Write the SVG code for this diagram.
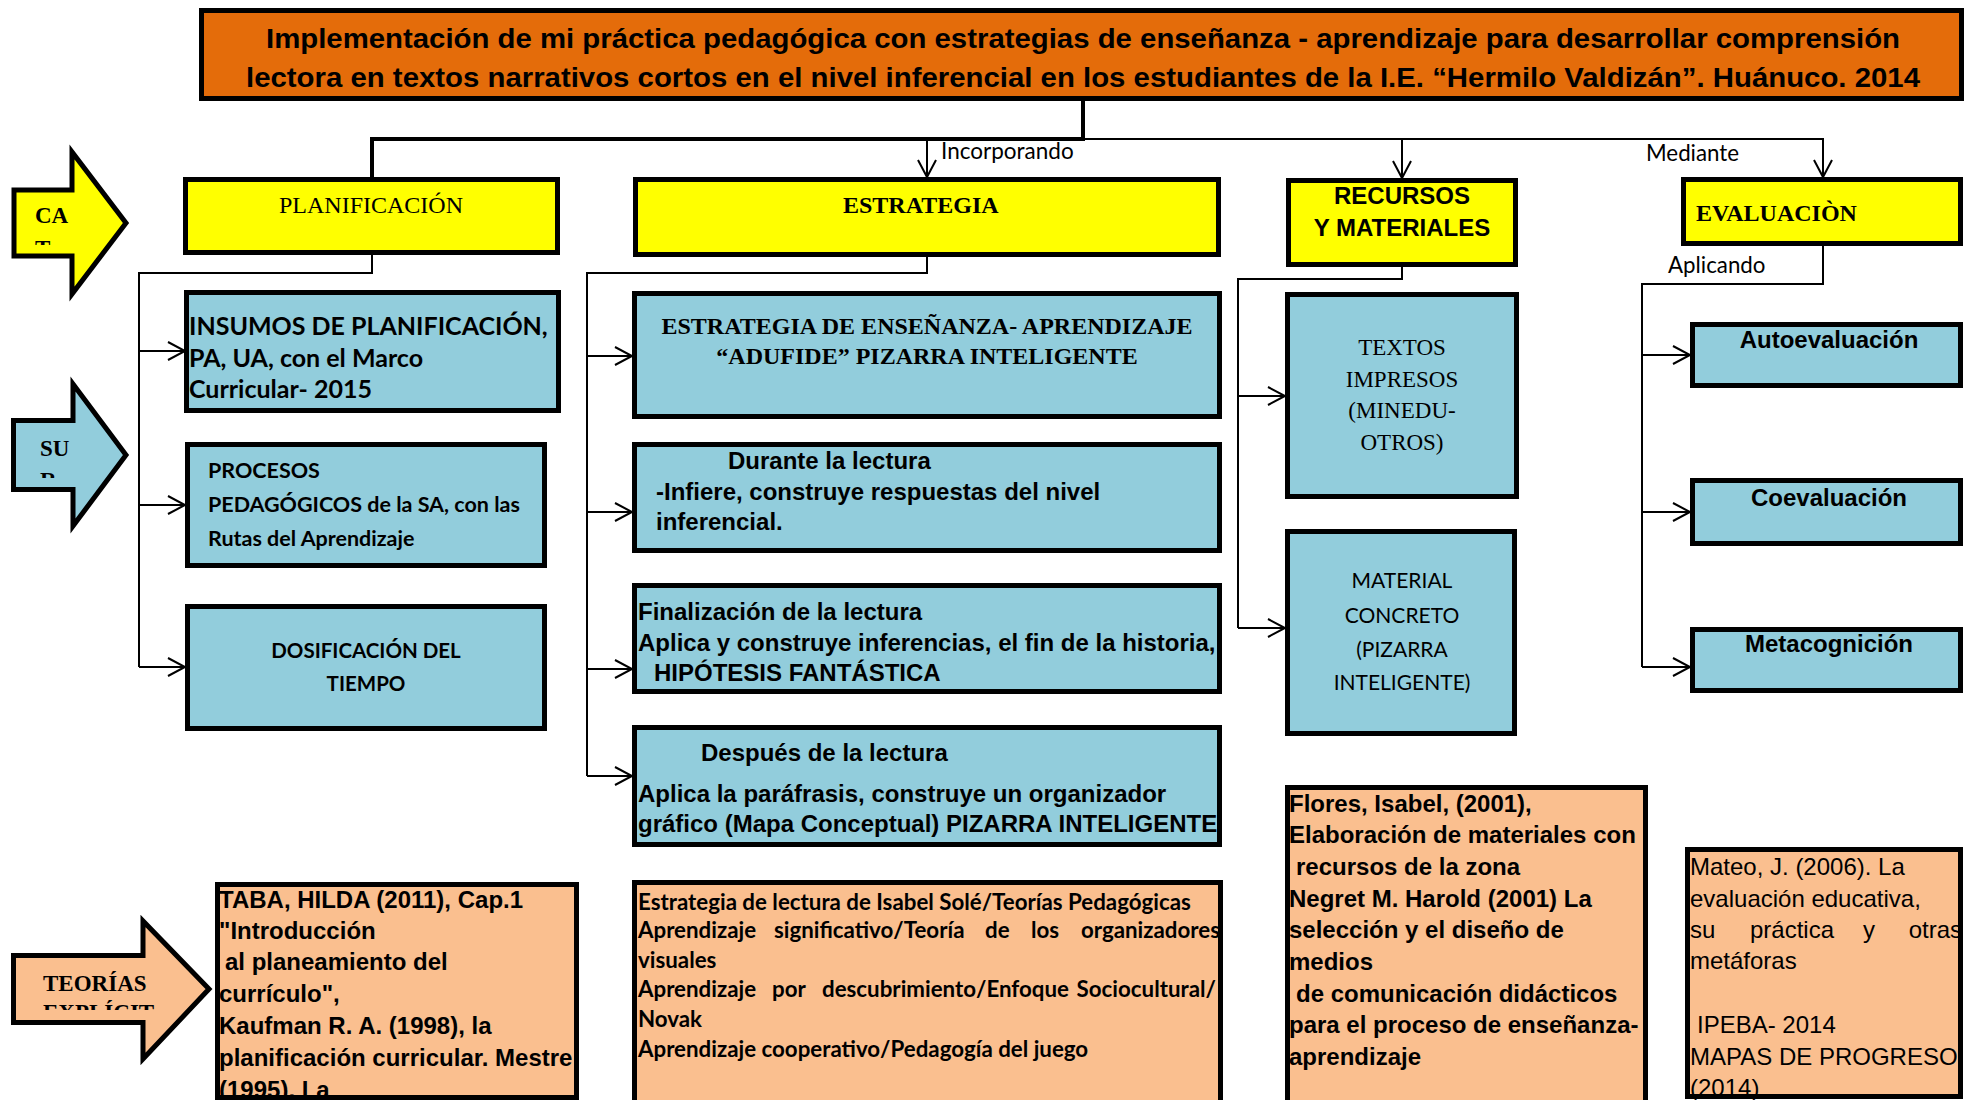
<svg xmlns="http://www.w3.org/2000/svg" width="1966" height="1100" viewBox="0 0 1966 1100">
<style>
.box{stroke:#000;stroke-width:5}
.y{fill:#FFFF00}.b{fill:#92CDDC}.p{fill:#FABF8F}.o{fill:#E46C0A}
.ab{font-family:"Liberation Sans",Arial,sans-serif;font-weight:bold;font-size:24px;fill:#000}
.ar{font-family:"Liberation Sans",Arial,sans-serif;font-size:24px;fill:#000}
.tb{font-family:"Liberation Serif","Times New Roman",serif;font-weight:bold;fill:#000}
.tr{font-family:"Liberation Serif","Times New Roman",serif;fill:#000}
.cb{font-family:Lato,"Liberation Sans",sans-serif;font-weight:bold;fill:#000}
.cr{font-family:Lato,"Liberation Sans",sans-serif;fill:#000}
.c{text-anchor:middle}
.e{text-anchor:end}
.ln{fill:none;stroke:#000;stroke-width:2}
.thick{fill:none;stroke:#000;stroke-width:4}
.bk{fill:none;stroke:#000;stroke-width:5}
</style>
<defs>
<marker id="arr" markerUnits="userSpaceOnUse" markerWidth="22" markerHeight="24" refX="19" refY="12" orient="auto">
<path d="M2,3 L19,12 L2,21" fill="none" stroke="#000" stroke-width="2"/>
</marker>
<clipPath id="clipCA"><rect x="0" y="180" width="130" height="65"/></clipPath>
<clipPath id="clipSU"><rect x="0" y="410" width="130" height="68"/></clipPath>
<clipPath id="clipTE"><rect x="0" y="950" width="210" height="60"/></clipPath>
</defs>

<g id="connectors">
<path class="thick" d="M1083,101 V139 H372 V177"/>
<path class="ln" d="M1083,139 H1823 V177" marker-end="url(#arr)"/>
<path class="ln" d="M1402,139 V178" marker-end="url(#arr)"/>
<path class="ln" d="M927,139 V177" marker-end="url(#arr)"/>
<text class="cr" font-size="22.5" x="941" y="159">Incorporando</text>
<text class="cr" font-size="22.3" x="1646" y="161">Mediante</text>
<text class="cr" font-size="22.3" x="1668" y="273">Aplicando</text>

<path class="ln" d="M372,255 V273 H139 V667"/>
<path class="ln" d="M139,351 H185" marker-end="url(#arr)"/>
<path class="ln" d="M139,505 H185" marker-end="url(#arr)"/>
<path class="ln" d="M139,667 H185" marker-end="url(#arr)"/>

<path class="ln" d="M927,257 V273 H587 V776"/>
<path class="ln" d="M587,356 H632" marker-end="url(#arr)"/>
<path class="ln" d="M587,512 H632" marker-end="url(#arr)"/>
<path class="ln" d="M587,669 H632" marker-end="url(#arr)"/>
<path class="ln" d="M587,776 H632" marker-end="url(#arr)"/>

<path class="ln" d="M1402,267 V279 H1238 V628"/>
<path class="ln" d="M1238,396 H1285" marker-end="url(#arr)"/>
<path class="ln" d="M1238,628 H1285" marker-end="url(#arr)"/>

<path class="ln" d="M1823,246 V284 H1642 V667"/>
<path class="ln" d="M1642,355 H1690" marker-end="url(#arr)"/>
<path class="ln" d="M1642,512 H1690" marker-end="url(#arr)"/>
<path class="ln" d="M1642,667 H1690" marker-end="url(#arr)"/>
</g>

<g id="title">
<rect class="box o" x="201.5" y="10.5" width="1760" height="88"/>
<text class="ab" x="266" y="48" textLength="1634" lengthAdjust="spacingAndGlyphs" style="font-size:27px">Implementación de mi práctica pedagógica con estrategias de enseñanza - aprendizaje para desarrollar comprensión</text>
<text class="ab" x="246" y="87" textLength="1674" lengthAdjust="spacingAndGlyphs" style="font-size:27px">lectora en textos narrativos cortos en el nivel inferencial en los estudiantes de la I.E. “Hermilo Valdizán”. Huánuco. 2014</text>
</g>

<g id="arrow-ca">
<polygon class="box y" points="14,190 72,190 72,152 126,223 72,294 72,256 14,256"/>
<g clip-path="url(#clipCA)">
<text class="tb" font-size="23" x="35" y="223">CA</text>
<text class="tb" font-size="23" x="35" y="256">T</text>
</g>
</g>

<g id="arrow-su">
<polygon class="box b" points="13.5,420.5 73,420.5 73,384 126,455 73,526 73,489.5 13.5,489.5"/>
<g clip-path="url(#clipSU)">
<text class="tb" font-size="23" x="40" y="456">SU</text>
<text class="tb" font-size="23" x="40" y="488">R</text>
</g>
</g>

<g id="arrow-teorias">
<polygon class="box p" points="13.5,955.5 143,955.5 143,921 209,989 143,1059 143,1022.5 13.5,1022.5"/>
<g clip-path="url(#clipTE)">
<text class="tb" font-size="23" x="43" y="991">TEORÍAS</text>
<text class="tb" font-size="23" x="43" y="1020">EXPLÍCIT</text>
</g>
</g>

<g id="planificacion">
<rect class="box y" x="185.5" y="179.5" width="372" height="73"/>
<text class="tr c" font-size="24" x="371" y="213">PLANIFICACIÓN</text>
</g>
<g id="estrategia">
<rect class="box y" x="635.5" y="179.5" width="583" height="75"/>
<text class="tb" font-size="24" x="843" y="213">ESTRATEGIA</text>
</g>
<g id="recursos">
<rect class="box y" x="1288.5" y="180.5" width="227" height="84"/>
<text class="ab c" x="1402" y="204">RECURSOS</text>
<text class="ab c" x="1402" y="236">Y MATERIALES</text>
</g>
<g id="evaluacion">
<rect class="box y" x="1683.5" y="179.5" width="277" height="64"/>
<text class="tb" font-size="24" x="1696" y="221">EVALUACIÒN</text>
</g>

<g id="insumos">
<rect class="box b" x="186.5" y="292.5" width="372" height="118"/>
<text class="cb" font-size="25" x="189" y="335">INSUMOS DE PLANIFICACIÓN,</text>
<text class="cb" font-size="25" x="189" y="367">PA, UA, con el Marco</text>
<text class="cb" font-size="25" x="189" y="398">Curricular- 2015</text>
</g>
<g id="procesos">
<rect class="box b" x="187.5" y="444.5" width="357" height="121"/>
<text class="cb" font-size="21.5" x="208" y="478">PROCESOS</text>
<text class="cb" font-size="21.5" x="208" y="512">PEDAGÓGICOS de la SA, con las</text>
<text class="cb" font-size="21.5" x="208" y="546">Rutas del Aprendizaje</text>
</g>
<g id="dosificacion">
<rect class="box b" x="187.5" y="606.5" width="357" height="122"/>
<text class="cb c" font-size="20.5" x="366" y="658">DOSIFICACIÓN DEL</text>
<text class="cb c" font-size="20.5" x="366" y="691">TIEMPO</text>
</g>

<g id="estrategia-ensenanza">
<rect class="box b" x="634.5" y="293.5" width="585" height="123"/>
<text class="tb c" font-size="24" x="927" y="334">ESTRATEGIA DE ENSEÑANZA- APRENDIZAJE</text>
<text class="tb c" font-size="24" x="927" y="364">“ADUFIDE” PIZARRA INTELIGENTE</text>
</g>
<g id="durante">
<rect class="box b" x="634.5" y="444.5" width="585" height="106"/>
<text class="ab" x="728" y="469">Durante la lectura</text>
<text class="ab" x="656" y="500">-Infiere, construye respuestas del nivel</text>
<text class="ab" x="656" y="530">inferencial.</text>
</g>
<g id="finalizacion">
<rect class="box b" x="634.5" y="585.5" width="585" height="106"/>
<text class="ab" x="638" y="620">Finalización de la lectura</text>
<text class="ab" x="638" y="651">Aplica y construye inferencias, el fin de la historia,</text>
<text class="ab" x="654" y="681">HIPÓTESIS FANTÁSTICA</text>
</g>
<g id="despues">
<rect class="box b" x="634.5" y="727.5" width="585" height="117"/>
<text class="ab" x="701" y="761">Después de la lectura</text>
<text class="ab" x="638" y="802">Aplica la paráfrasis, construye un organizador</text>
<text class="ab" x="638" y="832">gráfico (Mapa Conceptual) PIZARRA INTELIGENTE</text>
</g>

<g id="textos">
<rect class="box b" x="1287.5" y="294.5" width="229" height="202"/>
<text class="tr c" font-size="23" x="1402" y="355">TEXTOS</text>
<text class="tr c" font-size="23" x="1402" y="387">IMPRESOS</text>
<text class="tr c" font-size="23" x="1402" y="418">(MINEDU-</text>
<text class="tr c" font-size="23" x="1402" y="450">OTROS)</text>
</g>
<g id="material">
<rect class="box b" x="1287.5" y="531.5" width="227" height="202"/>
<text class="cr c" font-size="21" x="1402" y="588">MATERIAL</text>
<text class="cr c" font-size="21" x="1402" y="623">CONCRETO</text>
<text class="cr c" font-size="21" x="1402" y="657">(PIZARRA</text>
<text class="cr c" font-size="21" x="1402" y="690">INTELIGENTE)</text>
</g>

<g id="autoevaluacion">
<rect class="box b" x="1692.5" y="324.5" width="268" height="61"/>
<text class="ab c" x="1829" y="348">Autoevaluación</text>
</g>
<g id="coevaluacion">
<rect class="box b" x="1692.5" y="480.5" width="268" height="63"/>
<text class="ab c" x="1829" y="506">Coevaluación</text>
</g>
<g id="metacognicion">
<rect class="box b" x="1692.5" y="629.5" width="268" height="61"/>
<text class="ab c" x="1829" y="652">Metacognición</text>
</g>

<g id="taba">
<rect class="p" x="217.5" y="884.5" width="359" height="213"/>
<text class="ab" x="219" y="908">TABA, HILDA (2011), Cap.1</text>
<text class="ab" x="219" y="939">"Introducción</text>
<text class="ab" x="225" y="970">al planeamiento del</text>
<text class="ab" x="219" y="1002">currículo",</text>
<text class="ab" x="219" y="1034">Kaufman R. A. (1998), la</text>
<text class="ab" x="219" y="1066">planificación curricular. Mestre</text>
<text class="ab" x="219" y="1098">(1995). La</text>
<rect class="bk" x="217.5" y="884.5" width="359" height="213"/>
</g>

<g id="teorias-estrategia">
<rect class="box p" x="634.5" y="882.5" width="586" height="230"/>
<text class="cb" font-size="22.3" x="638" y="910">Estrategia de lectura de Isabel Solé/Teorías Pedagógicas</text>
<text class="cb" font-size="22.3" y="938"><tspan x="638">Aprendizaje</tspan><tspan x="774">significativo/Teoría</tspan><tspan x="985">de</tspan><tspan x="1031">los</tspan><tspan x="1220" text-anchor="end">organizadores</tspan></text>
<text class="cb" font-size="22.3" x="638" y="968">visuales</text>
<text class="cb" font-size="22.3" y="997"><tspan x="638">Aprendizaje</tspan><tspan x="772">por</tspan><tspan x="822">descubrimiento/Enfoque</tspan><tspan x="1216" text-anchor="end">Sociocultural/</tspan></text>
<text class="cb" font-size="22.3" x="638" y="1027">Novak</text>
<text class="cb" font-size="22.3" x="638" y="1057">Aprendizaje cooperativo/Pedagogía del juego</text>
</g>

<g id="flores">
<rect class="box p" x="1287.5" y="787.5" width="358" height="325"/>
<text class="ab" x="1289" y="812">Flores, Isabel, (2001),</text>
<text class="ab" x="1289" y="843">Elaboración de materiales con</text>
<text class="ab" x="1296" y="875">recursos de la zona</text>
<text class="ab" x="1289" y="907">Negret M. Harold (2001) La</text>
<text class="ab" x="1289" y="938">selección y el diseño de</text>
<text class="ab" x="1289" y="970">medios</text>
<text class="ab" x="1296" y="1002">de comunicación didácticos</text>
<text class="ab" x="1289" y="1033">para el proceso de enseñanza-</text>
<text class="ab" x="1289" y="1065">aprendizaje</text>
</g>

<g id="mateo">
<rect class="p" x="1687.5" y="849.5" width="273" height="247"/>
<text class="ar" x="1690" y="875">Mateo, J. (2006). La</text>
<text class="ar" x="1690" y="907">evaluación educativa,</text>
<text class="ar" y="938"><tspan x="1690">su</tspan><tspan x="1750">práctica</tspan><tspan x="1863">y</tspan><tspan x="1962" text-anchor="end">otras</tspan></text>
<text class="ar" x="1690" y="969">metáforas</text>
<text class="ar" x="1697" y="1033">IPEBA- 2014</text>
<text class="ar" x="1690" y="1065">MAPAS DE PROGRESO</text>
<text class="ar" x="1690" y="1096">(2014)</text>
<rect class="bk" x="1687.5" y="849.5" width="273" height="247"/>
</g>
</svg>
